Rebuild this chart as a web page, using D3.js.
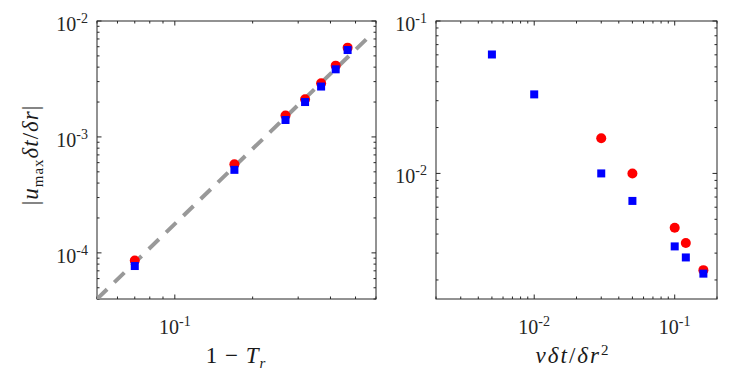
<!DOCTYPE html>
<meta charset="utf-8">
<head>
<style>
body { margin: 0; background: #fff; }
svg text { font-family: "Liberation Serif", "Times New Roman", serif; fill: #262626; }
.frame { fill: none; stroke: #262626; stroke-width: 1; }
.tick line { stroke: #262626; stroke-width: 1; }
.ticklab { font-size: 20px; }
.axlab { font-size: 23px; fill: #1a1a1a; letter-spacing: 1px; }
.fit { fill: none; stroke: #999; stroke-width: 4; stroke-dasharray: 14,10; }
</style>
<title>Scaling</title>
</head>
<body>
<svg id="graphic" width="747" height="384"></svg>
<script src="https://d3js.org/d3.v7.min.js"></script>
<script>
// left panel: |u_max dt/dr| vs 1 - T_r
var leftX    = [0.07, 0.17, 0.268, 0.319, 0.368, 0.419, 0.466];
var leftRed  = [8.6e-5, 5.8e-4, 1.53e-3, 2.11e-3, 2.9e-3, 4.12e-3, 5.89e-3];
var leftBlue = [7.7e-5, 5.2e-4, 1.40e-3, 2.0e-3, 2.72e-3, 3.83e-3, 5.62e-3];
var fitX = [0.05, 0.55];
var fitY = [4.0e-5, 6.95e-3];

// right panel: vs nu dt/dr^2
var rightBlueX = [0.005, 0.01, 0.03, 0.05, 0.1, 0.12, 0.16];
var rightBlue  = [0.0603, 0.033, 0.01, 0.0066, 0.00332, 0.00281, 0.0022];
var rightRedX  = [0.03, 0.05, 0.1, 0.12, 0.16];
var rightRed   = [0.017, 0.01, 0.0044, 0.0035, 0.00232];

var serif = "Liberation Serif";
var svg = d3.select("svg");
svg.append("rect").attr("width", 747).attr("height", 384).attr("fill", "#fff");

function logTicks(domain) {
  var out = [];
  var lo = Math.floor(Math.log10(domain[0])), hi = Math.ceil(Math.log10(domain[1]));
  for (var e = lo; e <= hi; e++) {
    for (var k = 1; k < 10; k++) {
      var v = k * Math.pow(10, e);
      if (v >= domain[0] * 0.9999 && v <= domain[1] * 1.0001) out.push({v: v, major: k === 1, e: e});
    }
  }
  return out;
}

function powLabel(sel, e) {
  sel.append("tspan").text("10");
  sel.append("tspan").attr("dy", -8).style("font-size", "14px").text("-" + Math.abs(e));
}

function panel(left, right, top, bottom, xDom, yDom) {
  var x = d3.scaleLog().domain(xDom).range([left, right]);
  var y = d3.scaleLog().domain(yDom).range([bottom, top]);
  var g = svg.append("g");
  var clipId = "clip" + left;
  svg.append("clipPath").attr("id", clipId)
    .append("rect").attr("x", left).attr("y", top).attr("width", right - left).attr("height", bottom - top);

  var xt = logTicks(xDom), yt = logTicks(yDom);
  var tg = g.append("g").attr("class", "tick");
  xt.forEach(function(t) {
    var len = t.major ? 4.5 : 2.5, px = x(t.v);
    tg.append("line").attr("x1", px).attr("x2", px).attr("y1", bottom).attr("y2", bottom - len);
    tg.append("line").attr("x1", px).attr("x2", px).attr("y1", top).attr("y2", top + len);
    if (t.major) {
      g.append("text").attr("class", "ticklab").attr("x", px).attr("y", bottom + 35)
        .attr("font-family", serif).attr("text-anchor", "middle").call(powLabel, t.e);
    }
  });
  yt.forEach(function(t) {
    var len = t.major ? 4.5 : 2.5, py = y(t.v);
    tg.append("line").attr("y1", py).attr("y2", py).attr("x1", left).attr("x2", left + len);
    tg.append("line").attr("y1", py).attr("y2", py).attr("x1", right).attr("x2", right - len);
    if (t.major) {
      g.append("text").attr("class", "ticklab").attr("x", left - 9).attr("y", py + 10)
        .attr("font-family", serif).attr("text-anchor", "end").call(powLabel, t.e);
    }
  });
  g.append("rect").attr("class", "frame")
    .attr("x", left).attr("y", top).attr("width", right - left).attr("height", bottom - top);
  return {x: x, y: y, g: g, clip: "url(#" + clipId + ")"};
}

function circles(p, xs, ys) {
  p.g.append("g").selectAll("circle").data(xs).enter().append("circle")
    .attr("cx", function(d) { return p.x(d); })
    .attr("cy", function(d, i) { return p.y(ys[i]); })
    .attr("r", 5).attr("fill", "#ff0000");
}
function squares(p, xs, ys) {
  p.g.append("g").selectAll("rect").data(xs).enter().append("rect")
    .attr("x", function(d) { return p.x(d) - 4; })
    .attr("y", function(d, i) { return p.y(ys[i]) - 4; })
    .attr("width", 8).attr("height", 8).attr("fill", "#0000ff");
}

// ---- left
var L = panel(97, 376, 21, 299, [0.05, 0.6], [4e-5, 1e-2]);
L.g.append("path").attr("class", "fit").attr("clip-path", L.clip)
  .attr("d", d3.line().x(function(d) { return L.x(d); }).y(function(d, i) { return L.y(fitY[i]); })(fitX));
circles(L, leftX, leftRed);
squares(L, leftX, leftBlue);

var yl = svg.append("text").attr("class", "axlab").attr("font-family", serif)
  .attr("transform", "translate(38,155) rotate(-90)").attr("text-anchor", "middle");
yl.append("tspan").text("|");
yl.append("tspan").style("font-style", "italic").text("u");
yl.append("tspan").attr("dy", 5).style("font-size", "15px").text("max");
yl.append("tspan").attr("dy", -5).style("font-style", "italic").text("δt");
yl.append("tspan").text("/");
yl.append("tspan").style("font-style", "italic").text("δr");
yl.append("tspan").text("|");

var xl = svg.append("text").attr("class", "axlab").attr("font-family", serif)
  .attr("x", 236).attr("y", 363).attr("text-anchor", "middle");
xl.append("tspan").text("1 − ");
xl.append("tspan").style("font-style", "italic").text("T");
xl.append("tspan").attr("dy", 5).style("font-size", "15px").style("font-style", "italic").text("r");

// ---- right
var R = panel(436, 717, 21, 299, [2e-3, 0.2], [1.5e-3, 0.1]);
circles(R, rightRedX, rightRed);
squares(R, rightBlueX, rightBlue);

var xr = svg.append("text").attr("class", "axlab").attr("font-family", serif)
  .attr("x", 573).attr("y", 363).attr("text-anchor", "middle").style("letter-spacing", "2px");
xr.append("tspan").style("font-style", "italic").text("νδt");
xr.append("tspan").text("/");
xr.append("tspan").style("font-style", "italic").text("δr");
xr.append("tspan").attr("dy", -8).style("font-size", "15px").text("2");
</script>
</body>
